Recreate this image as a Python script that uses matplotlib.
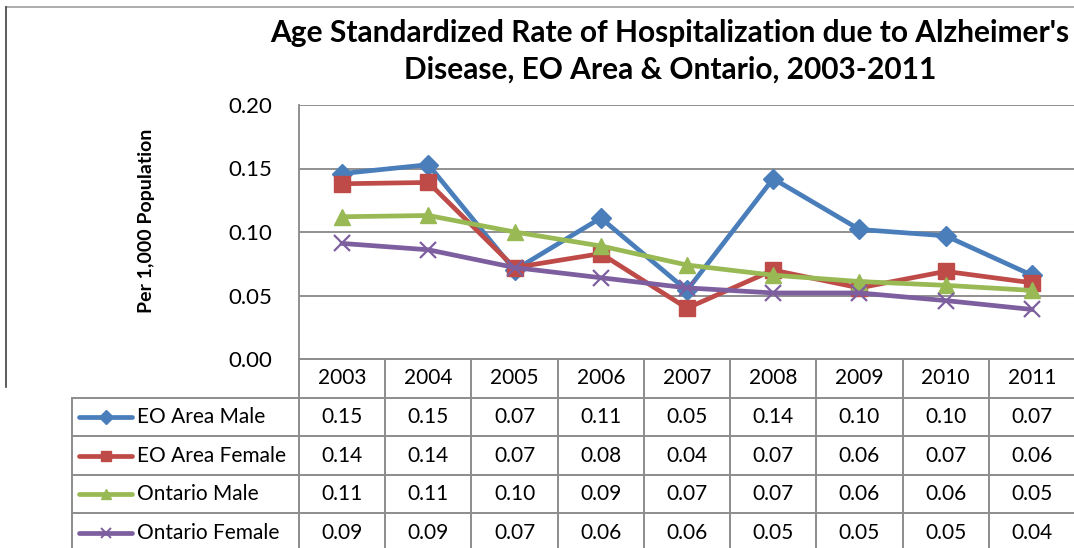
import matplotlib
matplotlib.use("Agg")
import matplotlib.pyplot as plt
from matplotlib.transforms import blended_transform_factory
from matplotlib.lines import Line2D

plt.rcParams['font.family'] = ['Lato', 'DejaVu Sans']

years = ['2003', '2004', '2005', '2006', '2007', '2008', '2009', '2010', '2011']
series_names = ['EO Area Male', 'EO Area Female', 'Ontario Male', 'Ontario Female']
eo_male = [0.146, 0.153, 0.070, 0.111, 0.054, 0.142, 0.102, 0.097, 0.066]
eo_female = [0.138, 0.139, 0.072, 0.083, 0.040, 0.070, 0.056, 0.069, 0.060]
on_male = [0.112, 0.113, 0.100, 0.089, 0.074, 0.066, 0.061, 0.058, 0.054]
on_female = [0.091, 0.086, 0.072, 0.064, 0.056, 0.052, 0.052, 0.046, 0.039]
yticks = [0.00, 0.05, 0.10, 0.15, 0.20]

series = [eo_male, eo_female, on_male, on_female]
colors = ['#4A7EBB', '#BE4B48', '#98B954', '#7D5FA0']
markers = ['D', 's', '^', 'x']
msizes = [10, 11, 11, 11]

W, H = 1074, 548
fig = plt.figure(figsize=(W / 100, H / 100), dpi=100)
L, R, T, B = 299, 1075, 105, 359
ax = fig.add_axes([L / W, (H - B) / H, (R - L) / W, (B - T) / H])

x = list(range(len(years)))
for vals, c, m, ms in zip(series, colors, markers, msizes):
    ax.plot(x, vals, color=c, lw=3.4, marker=m, ms=ms, mec=c, mfc=c,
            mew=1.6 if m == 'x' else 1, zorder=3, solid_joinstyle='round')

ax.set_xlim(-0.5, len(years) - 0.5)
ax.set_ylim(0, 0.2)
ax.set_yticks(yticks)
ax.set_yticklabels([f"{v:.2f}" for v in yticks], fontsize=16)
ax.set_xticks([])
ax.tick_params(axis='y', length=0, pad=19)
ax.grid(axis='y', color='#888888', lw=1.3)
ax.set_axisbelow(True)
for s in ['top', 'right', 'bottom']:
    ax.spines[s].set_visible(False)
ax.spines['left'].set_color('#888888')
ax.spines['left'].set_linewidth(1.3)

# data table
grid_c = '#8c8c8c'
ah = B - T
def fy(px):
    return (B - px) / ah
def fx(px):
    return (px - L) / (R - L)

ax.set_ylabel('Per 1,000 Population', fontsize=14, fontweight='bold')
ax.yaxis.set_label_coords(fx(155), fy(221))

tr = blended_transform_factory(ax.transData, ax.transAxes)
tra = ax.transAxes
rows_px = [359, 397.7, 436.2, 474.8, 513.3, 552]
for i, rp in enumerate(rows_px):
    x0 = fx(299) if i == 0 else fx(72)
    ax.add_line(Line2D([x0, 1.0], [fy(rp), fy(rp)], transform=tra, color=grid_c,
                       lw=1.4, clip_on=False))
for k in range(len(years) + 1):
    ax.add_line(Line2D([k - 0.5, k - 0.5], [fy(359), fy(552)], transform=tr,
                       color=grid_c, lw=1.4, clip_on=False))
ax.add_line(Line2D([fx(72), fx(72)], [fy(397.7), fy(552)], transform=tra,
                   color=grid_c, lw=1.4, clip_on=False))

for k, yr in enumerate(years):
    ax.text(k, fy((rows_px[0] + rows_px[1]) / 2), yr, transform=tr, ha='center',
            va='center', fontsize=15)
for r, (name, vals, c, m, ms) in enumerate(zip(series_names, series, colors, markers, msizes)):
    yc = fy((rows_px[r + 1] + rows_px[r + 2]) / 2)
    ax.add_line(Line2D([fx(79), fx(132)], [yc, yc], transform=tra, color=c, lw=3.4,
                       solid_capstyle='round', clip_on=False))
    ax.add_line(Line2D([fx(105.5)], [yc], transform=tra, color=c, marker=m,
                       ms=ms * 0.7, mfc=c, mec=c, mew=1.4 if m == 'x' else 1,
                       clip_on=False))
    ax.text(fx(137), yc, name, transform=tra, ha='left', va='center', fontsize=15)
    for k, v in enumerate(vals):
        ax.text(k, yc, f"{v:.2f}", transform=tr, ha='center', va='center', fontsize=15)

fig.text(0.624, 1 - 33 / H, "Age Standardized Rate of Hospitalization due to Alzheimer's",
         ha='center', va='center', fontsize=21.5, fontweight='bold')
fig.text(0.624, 1 - 70 / H, "Disease, EO Area & Ontario, 2003-2011",
         ha='center', va='center', fontsize=21.5, fontweight='bold')

fig.add_artist(Line2D([6 / W, 1.0], [1 - 7 / H, 1 - 7 / H], color='#a0a0a0', lw=1.2))
fig.add_artist(Line2D([6 / W, 6 / W], [1 - 7 / H, 1 - 387 / H], color='#404040', lw=1.2))

fig.savefig('out.png', dpi=100)
